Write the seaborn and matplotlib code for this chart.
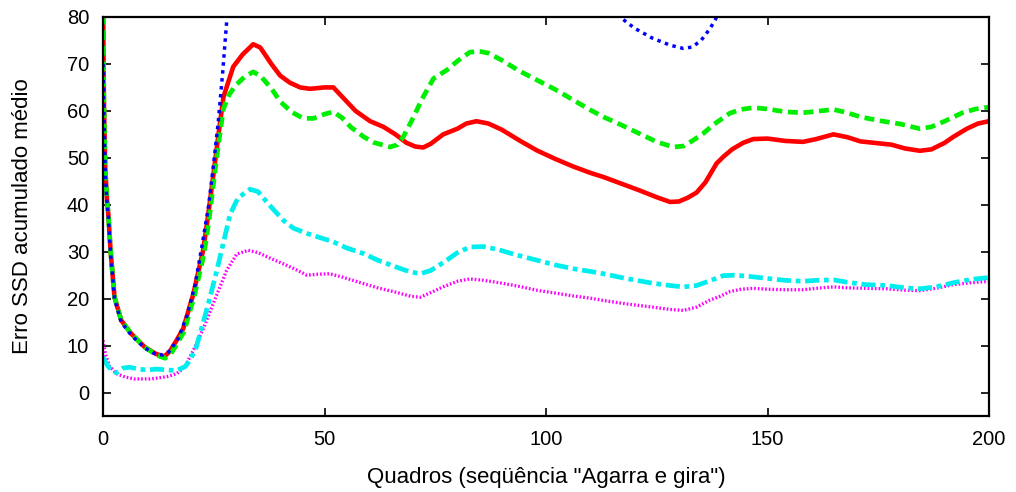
import matplotlib
matplotlib.use("Agg")
import matplotlib.pyplot as plt
import seaborn as sns
import pandas as pd

red_x = [0, 0.2, 0.5, 0.9, 1.2, 1.7, 2.6, 4.1, 6.4, 9.4, 12, 13.9, 15.1, 16.6, 18.1, 20.4, 22.6, 23.7, 25, 26, 27.2, 29.4, 31.5, 33.9, 35.5, 38, 40, 42.2, 44.5, 46.7, 50, 52, 54, 57, 60.3, 63.3, 66, 68.5, 70.5, 72.3, 74, 76.8, 80, 82, 84.3, 87, 90, 94, 97.9, 102, 106, 110, 113, 117, 121, 125, 128, 130, 132, 134, 136, 138.5, 140, 142, 144.5, 146.8, 150, 154, 158, 161, 164.9, 168, 171, 175, 178, 181, 184.4, 187, 190, 192, 195, 197.5, 200]
red_y = [85, 62, 48, 41, 38, 30.3, 20.3, 15.4, 12.5, 9.7, 8.2, 7.7, 8.8, 11.1, 13.6, 21, 30.3, 37.5, 47, 54.5, 63, 69.4, 72, 74.2, 73.5, 70, 67.5, 66, 65, 64.7, 65, 65, 63, 60, 57.8, 56.6, 55, 53.2, 52.4, 52.2, 53, 55, 56.2, 57.3, 57.8, 57.3, 56, 53.7, 51.6, 49.8, 48.2, 46.8, 45.9, 44.5, 43.1, 41.6, 40.6, 40.7, 41.5, 42.6, 44.8, 48.8, 50.2, 51.8, 53.2, 54, 54.1, 53.6, 53.4, 54, 55, 54.4, 53.5, 53.1, 52.8, 52, 51.5, 51.8, 53.2, 54.5, 56.2, 57.3, 57.8]

green_x = [0, 0.2, 0.5, 0.9, 1.2, 1.7, 2.6, 4.1, 6.4, 9.4, 12, 14, 15.3, 16.8, 18.3, 20.6, 22.8, 23.9, 25, 26, 27.2, 28.5, 30, 32, 33.9, 35.5, 38, 40, 42.5, 45.2, 47.5, 50, 52, 54, 56, 58.8, 61, 64.8, 66.5, 67.8, 70, 72, 74.6, 77.6, 80, 82.8, 85, 87, 90, 94, 97.9, 102, 106, 110, 113, 117, 121, 125, 128.7, 131, 133, 135.5, 138, 141.5, 144, 146.8, 150, 154, 158, 161, 164.9, 168, 171, 175.4, 180, 184.4, 187, 190, 194, 197, 200]
green_y = [85, 62, 48, 41, 38, 30.3, 20.3, 15.4, 12.5, 9.7, 8, 7.3, 8.2, 10.5, 13, 20.5, 29.5, 36.5, 45, 52.5, 60.5, 63.5, 65.5, 67.3, 68.3, 67.5, 64.8, 62, 59.8, 58.4, 58.4, 59.3, 59.8, 58.5, 56.5, 54.5, 53.3, 52.3, 52.8, 54.5, 58.5, 62.5, 66.9, 68.7, 70.6, 72.5, 72.7, 72.3, 70.8, 68.5, 66.6, 64.6, 62.4, 60.2, 58.7, 57, 55.2, 53.4, 52.3, 52.5, 53.6, 55.2, 57.2, 59.5, 60.3, 60.7, 60.4, 59.8, 59.6, 59.9, 60.3, 59.6, 58.7, 57.9, 57.2, 56.2, 56.6, 57.8, 59.6, 60.4, 60.8]

blue_x = [0, 0.2, 0.5, 0.9, 1.2, 1.7, 2.6, 4.1, 6.4, 9.4, 12, 13.5, 15, 17, 19, 20.8, 22.3, 23.8, 25, 26, 27, 28, 29, 31, 40, 60, 80, 100, 110, 113, 116.7, 120, 124, 128, 131, 133, 135, 137, 138.2, 140, 145, 160, 180, 200]
blue_y = [70, 60, 47, 40.5, 37.5, 29.8, 20, 15, 12.2, 9.5, 8.1, 8, 8.8, 11.5, 16.5, 23, 31, 39.5, 49, 57.5, 68, 80, 92, 110, 130, 135, 125, 108, 100, 88, 80, 77.6, 75.5, 74, 73.3, 73.6, 75, 77.5, 79.4, 83, 95, 110, 115, 118]

cyan_x = [0, 1, 2, 3.1, 4.5, 6, 8, 10, 12.1, 14.5, 16.6, 18.5, 19.6, 21, 21.9, 23.8, 25.7, 27.2, 28.7, 30.5, 33.2, 35, 37.5, 40.7, 43, 46, 49, 52, 55, 58.8, 62, 66, 69, 71.6, 74, 77, 80, 82.8, 85.8, 89, 93, 97.9, 102, 106, 110, 113, 118, 124, 128, 131, 134, 137, 140, 142.5, 145.3, 150, 154, 158, 161, 164.9, 168, 172, 177, 181, 184.4, 188, 192, 196, 200]
cyan_y = [7.5, 5.8, 4.6, 4.2, 5.2, 5.4, 5.0, 4.8, 5.0, 4.8, 4.7, 5.5, 6.8, 9.5, 12.5, 19, 26, 32, 38, 41.5, 43.3, 42.8, 40, 36.7, 35, 33.9, 33, 32.1, 30.8, 29.6, 28.2, 26.8, 25.8, 25.3, 26, 27.8, 29.8, 31, 31.1, 30.5, 29.4, 28.2, 27.2, 26.4, 25.8, 25.3, 24.3, 23.3, 22.8, 22.5, 22.8, 23.8, 24.9, 25, 24.8, 24.3, 23.9, 23.7, 23.9, 24, 23.5, 23, 22.8, 22.3, 22.1, 22.5, 23.4, 24.1, 24.5]

magenta_x = [0, 0.6, 1.5, 3.1, 5, 7, 10.6, 12.5, 14.5, 16.6, 18.5, 20.4, 22.6, 24.9, 27.9, 30.2, 32.8, 35, 38, 41, 44, 46, 48.5, 51.2, 54, 58.8, 62, 66, 69.5, 71.6, 74, 77, 80, 82.8, 86, 90, 94, 97.9, 102, 106, 110, 113, 118, 124, 128, 131, 134, 137, 139.3, 141.5, 144, 146.8, 150, 154, 158, 161, 164.9, 168, 172, 177, 181, 184.4, 188, 192, 196, 200]
magenta_y = [11.1, 8, 5.6, 4, 3.3, 2.9, 2.9, 3.1, 3.4, 4.0, 5.5, 9, 13.5, 19, 26, 29.5, 30.3, 29.8, 28.5, 27.3, 26, 25, 25.2, 25.3, 24.6, 23.2, 22.3, 21.4, 20.5, 20.3, 21.3, 22.6, 23.7, 24.2, 23.9, 23.3, 22.6, 21.8, 21.2, 20.6, 20.1, 19.6, 18.9, 18.2, 17.7, 17.5, 18.2, 19.7, 20.5, 21.5, 22, 22.2, 22, 21.9, 21.9, 22.2, 22.5, 22.3, 22.2, 22.1, 21.8, 21.7, 22.2, 23, 23.4, 23.7]

x_ticks = [0, 50, 100, 150, 200]
y_ticks = [0, 10, 20, 30, 40, 50, 60, 70, 80]
x_label = 'Quadros (seqüência "Agarra e gira")'
y_label = 'Erro SSD acumulado médio'

sns.set_style("ticks")
plt.rcParams['font.family'] = ['Liberation Sans', 'DejaVu Sans']

fig = plt.figure(figsize=(10.16, 4.92), dpi=100)
ax = fig.add_axes([103/1016, 1 - 416/492, (989-103)/1016, (416-17)/492])

series = [
    (red_x, red_y, dict(color='#ff0000', linewidth=3.3, linestyle='-')),
    (green_x, green_y, dict(color='#00ee00', linewidth=3.4, linestyle=(0, (2.1, 1.2)))),
    (blue_x, blue_y, dict(color='#0000ff', linewidth=2.5, linestyle=(0, (1.0, 1.3)))),
    (magenta_x, magenta_y, dict(color='#ff00ff', linewidth=2.4, linestyle=(0, (0.5, 0.6)))),
    (cyan_x, cyan_y, dict(color='#00eeee', linewidth=3.4, linestyle=(0, (3.0, 1.0, 1.0, 1.0)))),
]
for xs, ys, kw in series:
    df = pd.DataFrame({'x': xs, 'y': ys})
    sns.lineplot(data=df, x='x', y='y', ax=ax, sort=False, estimator=None, **kw)

ax.set_xlim(0, 200)
ax.set_ylim(-5, 80)
ax.set_xticks(x_ticks)
ax.set_yticks(y_ticks)
ax.tick_params(direction='in', length=6, width=1.2, top=True, right=True,
               labelsize=14.5, pad=10, colors='black')
for s in ax.spines.values():
    s.set_visible(True)
    s.set_linewidth(1.6)
    s.set_color('black')
ax.set_xlabel(x_label, fontsize=16, labelpad=13, color='black')
ax.set_ylabel(y_label, fontsize=16, labelpad=24, color='black')

fig.savefig('out.png', dpi=100)
